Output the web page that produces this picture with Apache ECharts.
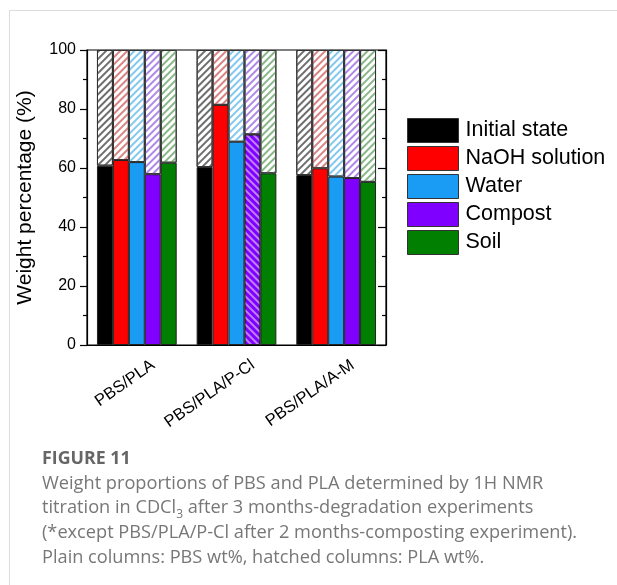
<!DOCTYPE html>
<html>
<head>
<meta charset="utf-8">
<script src="https://cdn.jsdelivr.net/npm/echarts@6/dist/echarts.min.js"></script>
<style>
html,body{margin:0;padding:0;background:#fff;}
#c{width:617px;height:585px;}
</style>
</head>
<body>
<div id="c"></div>
<script>
// ---- data ----
const categories = ['PBS/PLA', 'PBS/PLA/P-Cl', 'PBS/PLA/A-M'];
const seriesNames = ['Initial state', 'NaOH solution', 'Water', 'Compost', 'Soil'];
// PBS wt% (plain columns)
const pbsInitial = [60.8, 60.3, 57.6];
const pbsNaOH    = [62.7, 81.4, 59.9];
const pbsWater   = [62.0, 68.9, 57.1];
const pbsCompost = [57.9, 71.4, 56.6];
const pbsSoil    = [61.8, 58.2, 55.3];
// PLA wt% (hatched columns)
const plaInitial = [39.2, 39.7, 42.4];
const plaNaOH    = [37.3, 18.6, 40.1];
const plaWater   = [38.0, 31.1, 42.9];
const plaCompost = [42.1, 28.6, 43.4];
const plaSoil    = [38.2, 41.8, 44.7];
const yTicks = [0, 20, 40, 60, 80, 100];

// ---- styles ----
const solidColors = ['#000000', '#ff0000', '#1a9cf5', '#7f00ff', '#007f00'];
const hatchColors = ['#6e6e6e', '#d98383', '#84c8ee', '#ae8ae6', '#88b888'];
const pbsData = [pbsInitial, pbsNaOH, pbsWater, pbsCompost, pbsSoil];
const plaData = [plaInitial, plaNaOH, plaWater, plaCompost, plaSoil];

const series = [];
seriesNames.forEach((name, i) => {
  const pbs = pbsData[i].map((v, j) => {
    // the P-Cl compost column (2-month experiment) is drawn hatched
    if (i === 3 && j === 1) {
      return {value: v, itemStyle: {decal: {
        symbol: 'rect', symbolSize: 1, dashArrayX: [1, 0], dashArrayY: [1.1, 2.4],
        rotation: Math.PI / 4, color: 'rgba(255,255,255,0.5)'}}};
    }
    return v;
  });
  series.push({
    name: name, type: 'bar', stack: 's' + i, data: pbs,
    barGap: 0, barCategoryGap: '20%',
    itemStyle: {color: solidColors[i], borderColor: '#222', borderWidth: 1},
    emphasis: {disabled: true}
  });
  series.push({
    name: name + ' PLA', type: 'bar', stack: 's' + i, data: plaData[i],
    barGap: 0, barCategoryGap: '20%',
    itemStyle: {color: '#ffffff', borderColor: '#333', borderWidth: 1,
      decal: {symbol: 'rect', symbolSize: 1, dashArrayX: [1, 0], dashArrayY: [1.1, 2.4],
        rotation: -Math.PI / 4, color: hatchColors[i]}},
    emphasis: {disabled: true}
  });
});

const chart = echarts.init(document.getElementById('c'), null, {renderer: 'canvas'});
chart.setOption({
  animation: false,
  backgroundColor: '#fff',
  textStyle: {fontFamily: 'Liberation Sans, Arial, sans-serif'},
  graphic: [
    {type: 'line', shape: {x1: 9, y1: 10.5, x2: 617, y2: 10.5}, style: {stroke: '#dcdcdc', lineWidth: 1}, silent: true},
    {type: 'line', shape: {x1: 9.5, y1: 10, x2: 9.5, y2: 585}, style: {stroke: '#dcdcdc', lineWidth: 1}, silent: true}
  ],
  title: [
    {text: 'FIGURE 11', left: 37, top: 445,
     textStyle: {fontFamily: 'Open Sans', fontSize: 17.8, fontWeight: 'bold', color: '#666'}},
    {text: 'Weight proportions of PBS and PLA determined by 1H NMR\ntitration in CDCl{sub|3} after 3 months-degradation experiments\n(*except PBS/PLA/P-Cl after 2 months-composting experiment).\nPlain columns: PBS wt%, hatched columns: PLA wt%.',
     left: 37, top: 466,
     textStyle: {fontFamily: 'Open Sans', fontSize: 18.2, fontWeight: 'normal', color: '#777', lineHeight: 24.7,
       rich: {sub: {fontFamily: 'Open Sans', fontSize: 12, color: '#777', lineHeight: 18, verticalAlign: 'bottom'}}}}
  ],
  legend: {
    data: seriesNames, orient: 'vertical', left: 402, top: 113,
    itemWidth: 51, itemHeight: 24, itemGap: 3, icon: 'rect',
    itemStyle: {borderColor: '#333', borderWidth: 1},
    textStyle: {fontFamily: 'Liberation Sans', fontSize: 21.5, color: '#000', padding: [0, 0, 0, 2]},
    selectedMode: false
  },
  grid: {left: 87, right: 231, top: 50, bottom: 240, show: true, borderColor: '#000', borderWidth: 1.2, backgroundColor: 'transparent'},
  xAxis: {
    type: 'category', data: categories,
    axisLine: {lineStyle: {color: '#000', width: 1.2}},
    axisTick: {show: false},
    axisLabel: {rotate: 35, margin: 30, padding: [0, -20, 0, 0],
      fontFamily: 'Liberation Sans', fontSize: 16.5, color: '#000'}
  },
  yAxis: [{
    type: 'value', min: yTicks[0], max: yTicks[yTicks.length - 1], interval: 20,
    name: 'Weight percentage (%)', nameLocation: 'middle', nameGap: 51,
    nameTextStyle: {fontFamily: 'Liberation Sans', fontSize: 21, color: '#000'},
    axisLine: {show: true, lineStyle: {color: '#000', width: 1.2}},
    axisTick: {show: true, inside: false, length: 7, lineStyle: {color: '#000', width: 1.2}},
    minorTick: {show: true, splitNumber: 2, length: 4, lineStyle: {color: '#000', width: 1.2}},
    axisLabel: {margin: 11, fontFamily: 'Liberation Sans', fontSize: 16, color: '#000'},
    splitLine: {show: false}
  }, {
    type: 'value', min: yTicks[0], max: yTicks[yTicks.length - 1], interval: 20, position: 'right',
    axisLine: {show: true, lineStyle: {color: '#000', width: 1.2}},
    axisTick: {show: true, inside: true, length: 8, lineStyle: {color: '#000', width: 1.2}},
    minorTick: {show: true, splitNumber: 2, length: 4, lineStyle: {color: '#000', width: 1.2}},
    axisLabel: {show: false},
    splitLine: {show: false}
  }],
  series: series
});
</script>
</body>
</html>
